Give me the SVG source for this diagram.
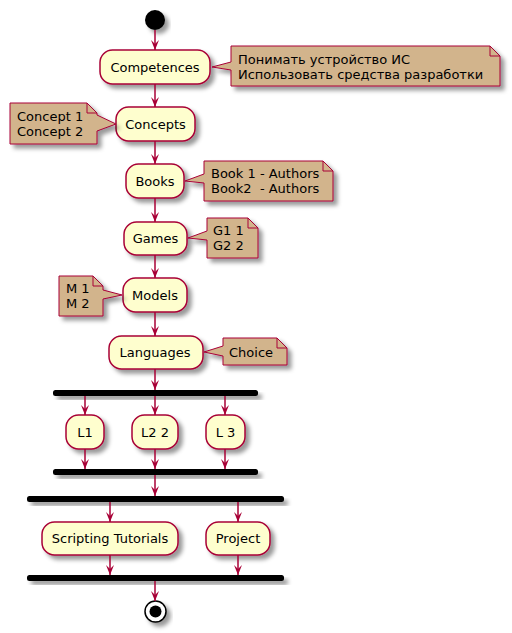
<svg xmlns="http://www.w3.org/2000/svg" width="512" height="633" viewBox="0 0 512 633">
<defs>
<filter id="sh" x="-20%" y="-20%" width="150%" height="180%">
<feGaussianBlur in="SourceAlpha" stdDeviation="2" result="b"/>
<feColorMatrix in="b" type="matrix" values="0 0 0 0 0 0 0 0 0 0 0 0 0 0 0 0 0 0 .4 0" result="b2"/>
<feOffset in="b2" dx="4" dy="4" result="b3"/>
<feMerge><feMergeNode in="b3"/><feMergeNode in="SourceGraphic"/></feMerge>
</filter>
<marker id="ah" viewBox="0 0 10 8" refX="10" refY="4" markerWidth="10" markerHeight="8" markerUnits="userSpaceOnUse" orient="auto">
<polygon points="0,0 10,4 0,8 4,4" fill="#A80036"/>
</marker>
</defs>
<style>
.act{fill:#FEFECE;stroke:#A80036;stroke-width:1.5;filter:url(#sh)}
.note{fill:#D2B48C;stroke:#A80036;stroke-width:1;filter:url(#sh)}
.fold{fill:none;stroke:#A80036;stroke-width:1}
.bar{fill:#000;filter:url(#sh)}
.t{font-family:"DejaVu Sans",sans-serif;font-size:13px;fill:#000}
.m{text-anchor:middle}
.c line{stroke:#A80036;stroke-width:1.5;marker-end:url(#ah)}
</style>

<g id="start"><circle cx="155" cy="20" r="10" fill="#000" filter="url(#sh)"/></g>

<g id="competences"><rect class="act" x="100" y="50" width="110" height="34" rx="12.5"/><text class="t m" x="155" y="71.5">Competences</text></g>
<g id="note-competences"><path class="note" d="M231,46 L231,62 L212,67 L231,70 L231,86 L500,86 L500,56 L490,46 Z"/><path class="fold" d="M490,46 L490,56 L500,56"/><text class="t" x="238" y="63.5">Понимать устройство ИС</text><text class="t" x="238" y="78.5">Использовать средства разработки</text></g>

<g id="concepts"><rect class="act" x="116" y="107" width="79" height="34" rx="12.5"/><text class="t m" x="155.5" y="128.5">Concepts</text></g>
<g id="note-concepts"><path class="note" d="M10,103 L10,144 L97,144 L97,131 L116,124 L97,115 L97,113 L87,103 Z"/><path class="fold" d="M87,103 L87,113 L97,113"/><text class="t" x="17" y="121">Concept 1</text><text class="t" x="17" y="136">Concept 2</text></g>

<g id="books"><rect class="act" x="126" y="164" width="58" height="34" rx="12.5"/><text class="t m" x="155" y="185.5">Books</text></g>
<g id="note-books"><path class="note" d="M204,161 L204,174 L185,181 L204,183 L204,201 L333,201 L333,171 L323,161 Z"/><path class="fold" d="M323,161 L323,171 L333,171"/><text class="t" x="211" y="178">Book 1 - Authors</text><text class="t" x="211" y="193" xml:space="preserve">Book2  - Authors</text></g>

<g id="games"><rect class="act" x="124" y="222" width="63" height="33" rx="12.5"/><text class="t m" x="155.5" y="243">Games</text></g>
<g id="note-games"><path class="note" d="M207,218 L207,231 L188,238 L207,240 L207,258 L258,258 L258,228 L248,218 Z"/><path class="fold" d="M248,218 L248,228 L258,228"/><text class="t" x="213" y="235">G1 1</text><text class="t" x="213" y="250">G2 2</text></g>

<g id="models"><rect class="act" x="123" y="278" width="64" height="34" rx="12.5"/><text class="t m" x="155" y="299.5">Models</text></g>
<g id="note-models"><path class="note" d="M59,276 L59,316 L103,316 L103,299 L122,295 L103,290 L103,286 L93,276 Z"/><path class="fold" d="M93,276 L93,286 L103,286"/><text class="t" x="66" y="293">M 1</text><text class="t" x="66" y="308">M 2</text></g>

<g id="languages"><rect class="act" x="109" y="336" width="94" height="33" rx="12.5"/><text class="t m" x="155" y="357">Languages</text></g>
<g id="note-languages"><path class="note" d="M223,338 L223,346 L204,352 L223,356 L223,365 L287,365 L287,348 L277,338 Z"/><path class="fold" d="M277,338 L277,348 L287,348"/><text class="t" x="229" y="356.5">Choice</text></g>

<g id="fork1"><rect class="bar" x="53" y="390" width="205" height="6" rx="2.5"/></g>
<g id="l1"><rect class="act" x="66" y="415" width="38" height="34" rx="12.5"/><text class="t m" x="85" y="436.5">L1</text></g>
<g id="l2"><rect class="act" x="132" y="415" width="46" height="34" rx="12.5"/><text class="t m" x="155" y="436.5">L2 2</text></g>
<g id="l3"><rect class="act" x="206" y="415" width="39" height="34" rx="12.5"/><text class="t m" x="225.5" y="436.5">L 3</text></g>
<g id="join1"><rect class="bar" x="53" y="469" width="205" height="6" rx="2.5"/></g>

<g id="fork2"><rect class="bar" x="27" y="496" width="257" height="6" rx="2.5"/></g>
<g id="scripting"><rect class="act" x="42" y="522" width="136" height="33" rx="12.5"/><text class="t m" x="110" y="543">Scripting Tutorials</text></g>
<g id="project"><rect class="act" x="206" y="522" width="64" height="33" rx="12.5"/><text class="t m" x="238" y="543">Project</text></g>
<g id="join2"><rect class="bar" x="27" y="575" width="257" height="6" rx="2.5"/></g>

<g id="end"><circle cx="155.5" cy="611.5" r="10.5" fill="#fff" stroke="#000" stroke-width="1.5" filter="url(#sh)"/><circle cx="155.5" cy="611.5" r="6" fill="#000"/></g>

<g id="connectors" class="c">
<line x1="155" y1="30" x2="155" y2="50"/>
<line x1="155" y1="84" x2="155" y2="107"/>
<line x1="155" y1="141" x2="155" y2="164"/>
<line x1="155" y1="198" x2="155" y2="222"/>
<line x1="155" y1="255" x2="155" y2="278"/>
<line x1="155" y1="312" x2="155" y2="336"/>
<line x1="155" y1="369" x2="155" y2="390"/>
<line x1="85" y1="396" x2="85" y2="415"/>
<line x1="155" y1="396" x2="155" y2="415"/>
<line x1="225" y1="396" x2="225" y2="415"/>
<line x1="85" y1="449" x2="85" y2="469"/>
<line x1="155" y1="449" x2="155" y2="469"/>
<line x1="225" y1="449" x2="225" y2="469"/>
<line x1="155" y1="475" x2="155" y2="496"/>
<line x1="110" y1="502" x2="110" y2="522"/>
<line x1="238" y1="502" x2="238" y2="522"/>
<line x1="110" y1="555" x2="110" y2="575"/>
<line x1="238" y1="555" x2="238" y2="575"/>
<line x1="155" y1="581" x2="155" y2="601"/>
</g>
</svg>
